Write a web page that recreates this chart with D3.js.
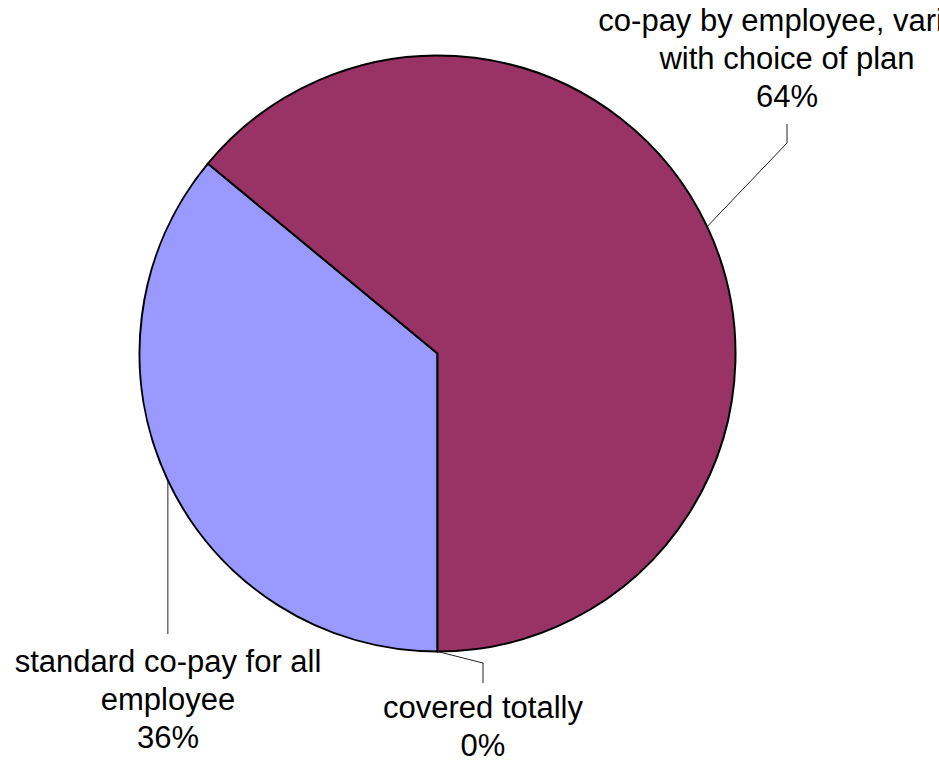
<!DOCTYPE html>
<html lang="en">
  <head>
    <meta charset="UTF-8" />
    <title>D3 pie</title>
    <script src="https://cdn.jsdelivr.net/npm/d3@7"></script>
    <style>
      html,
      body {
        margin: 0;
        padding: 0;
        background: #fff;
      }
      svg {
        display: block;
        font-family: 'Liberation Sans', Arial, sans-serif;
      }
    </style>
  </head>
  <body>
    <script>
      // data
      const categories = [
        'covered totally',
        'standard co-pay for all employee',
        'co-pay by employee, varies with choice of plan',
      ];
      const values = [0, 36, 64];
      const labelLines = [
        ['covered totally', '0%'],
        ['standard co-pay for all', 'employee', '36%'],
        ['co-pay by employee, varies', 'with choice of plan', '64%'],
      ];
      const colors = ['#7f7fff', '#9999ff', '#993366'];

      const width = 939,
        height = 762,
        cx = 437.5,
        cy = 353.5,
        radius = 298,
        fontSize = 31,
        lineHeight = 38;

      // where each label sits: elbow of the leader, end of leader, first baseline
      const layout = [
        { elbow: [483, 663], end: [483, 683], tx: 483, ty: 718 },
        { elbow: null, end: [168, 634], tx: 168, ty: 672 },
        { elbow: [787, 143], end: [787, 124], tx: 787, ty: 31 },
      ];

      const svg = d3
        .select('body')
        .append('svg')
        .attr('width', width)
        .attr('height', height);

      const pie = d3
        .pie()
        .sort(null)
        .startAngle(Math.PI)
        .endAngle(3 * Math.PI);

      const arcs = pie(values);

      const arc = d3.arc().innerRadius(0).outerRadius(radius);

      const g = svg.append('g').attr('transform', `translate(${cx},${cy})`);

      g.selectAll('path')
        .data(arcs)
        .join('path')
        .attr('d', arc)
        .attr('fill', (d, i) => colors[i])
        .attr('stroke', '#000')
        .attr('stroke-width', 2)
        .attr('stroke-linejoin', 'round');

      // leader lines
      arcs.forEach((d, i) => {
        const a = (d.startAngle + d.endAngle) / 2;
        const sx = cx + radius * Math.sin(a),
          sy = cy - radius * Math.cos(a);
        const L = layout[i];
        const pts = [[sx, sy]];
        if (L.elbow) pts.push(L.elbow);
        else pts.push([sx, L.end[1]]);
        if (L.elbow) pts.push(L.end);
        svg
          .append('path')
          .attr('d', d3.line()(pts))
          .attr('fill', 'none')
          .attr('stroke', '#222')
          .attr('stroke-width', 1);
      });

      // labels
      labelLines.forEach((lines, i) => {
        const L = layout[i];
        const t = svg
          .append('text')
          .attr('text-anchor', 'middle')
          .attr('font-size', fontSize)
          .attr('fill', '#000');
        lines.forEach((s, j) => {
          t.append('tspan')
            .attr('x', L.tx)
            .attr('y', L.ty + j * lineHeight)
            .text(s);
        });
      });
    </script>
  </body>
</html>
